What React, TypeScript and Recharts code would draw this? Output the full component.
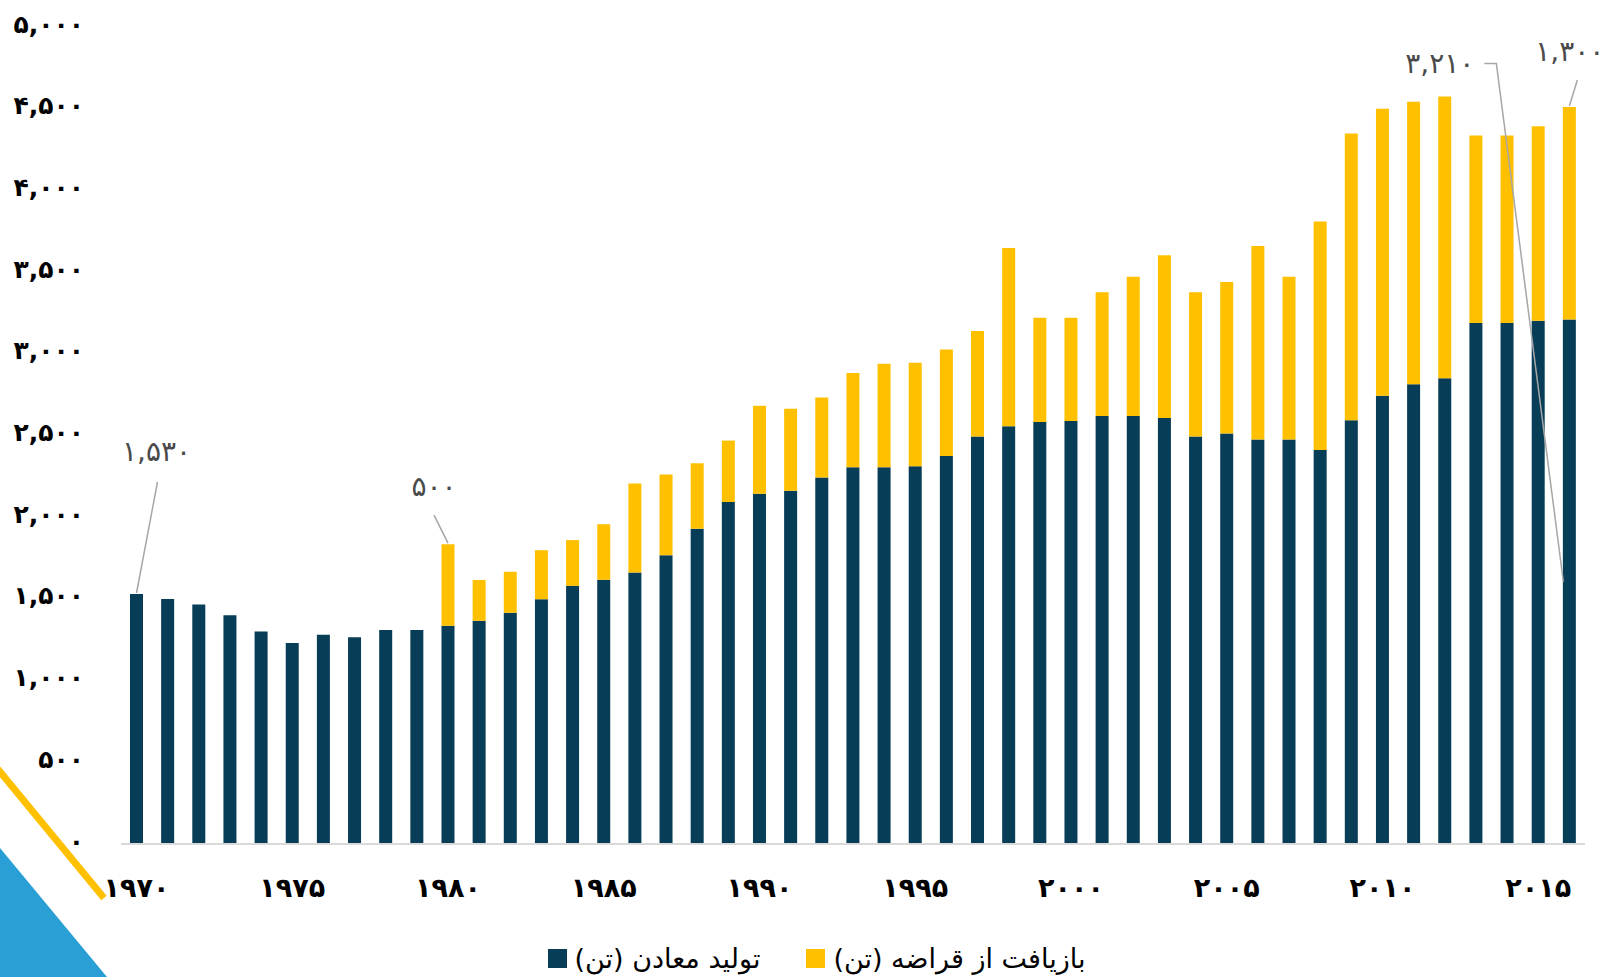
import { BarChart, Bar, XAxis, YAxis, LabelList } from 'recharts';

const YEARS = [
  1970, 1971, 1972, 1973, 1974, 1975, 1976, 1977, 1978, 1979,
  1980, 1981, 1982, 1983, 1984, 1985, 1986, 1987, 1988, 1989,
  1990, 1991, 1992, 1993, 1994, 1995, 1996, 1997, 1998, 1999,
  2000, 2001, 2002, 2003, 2004, 2005, 2006, 2007, 2008, 2009,
  2010, 2011, 2012, 2013, 2014, 2015, 2016,
];

// تولید معادن (تن)
const MINE = [
  1530, 1500, 1465, 1400, 1300, 1230, 1280, 1265, 1310, 1310,
  1335, 1366, 1416, 1498, 1580, 1617, 1661, 1767, 1930, 2093,
  2143, 2162, 2243, 2306, 2306, 2312, 2375, 2494, 2557, 2582,
  2588, 2619, 2619, 2607, 2494, 2513, 2475, 2475, 2412, 2594,
  2744, 2813, 2851, 3189, 3189, 3202, 3210,
];

// بازیافت از قراضه (تن)
const RECYCLED = [
  0, 0, 0, 0, 0, 0, 0, 0, 0, 0,
  500, 250, 250, 300, 280, 340, 545, 495, 400, 376,
  539, 501, 489, 576, 633, 633, 651, 645, 1090, 639,
  633, 758, 852, 996, 883, 927, 1184, 996, 1398, 1754,
  1755, 1730, 1723, 1147, 1147, 1190, 1300,
];

const Y_TICKS = [0, 500, 1000, 1500, 2000, 2500, 3000, 3500, 4000, 4500, 5000];

const SERIES_NAMES = ['تولید معادن (تن)', 'بازیافت از قراضه (تن)'];
const COLORS = ['#073D56', '#FFC000'];

const FONT = '"DejaVu Sans", "Noto Sans", sans-serif';

const FA_DIGITS = '۰۱۲۳۴۵۶۷۸۹';
const toFa = (n: number, sep = true) => {
  const s = sep ? n.toLocaleString('en-US') : String(n);
  return s.replace(/[0-9]/g, (d) => FA_DIGITS[Number(d)]);
};

const data = YEARS.map((year, i) => ({
  year,
  mine: MINE[i],
  recycled: RECYCLED[i],
}));

const LEADER = '#a6a6a6';
const NOTE = '#4a4a4a';
const NOTE_SIZE = 28;

// labels get the year (dataKey="year"), the value is looked up from the arrays
function MineNote(props: any) {
  const { x, y, width, height, value } = props;
  const i = YEARS.indexOf(value);
  const cx = x + width / 2;
  if (i === 0) {
    return (
      <g>
        <line x1={cx + 21} y1={y - 112} x2={cx} y2={y - 1} stroke={LEADER} strokeWidth={1.5} />
        <text x={cx + 20} y={y - 142} textAnchor="middle" dominantBaseline="central" fontSize={NOTE_SIZE} fill={NOTE} fontFamily={FONT}>
          {toFa(MINE[i])}
        </text>
      </g>
    );
  }
  if (i === YEARS.length - 1) {
    return (
      <g>
        <polyline
          points={`${cx - 85},${y - 256} ${cx - 73},${y - 256} ${cx - 6},${y + height / 2}`}
          fill="none"
          stroke={LEADER}
          strokeWidth={1.5}
        />
        <text x={cx - 95} y={y - 256} textAnchor="end" dominantBaseline="central" fontSize={NOTE_SIZE} fill={NOTE} fontFamily={FONT}>
          {toFa(MINE[i])}
        </text>
      </g>
    );
  }
  return null;
}

function RecycledNote(props: any) {
  const { x, y, width, value } = props;
  const i = YEARS.indexOf(value);
  const cx = x + width / 2;
  if (i === 10) {
    return (
      <g>
        <line x1={cx - 14} y1={y - 29} x2={cx} y2={y - 1} stroke={LEADER} strokeWidth={1.5} />
        <text x={cx - 14} y={y - 58} textAnchor="middle" dominantBaseline="central" fontSize={NOTE_SIZE} fill={NOTE} fontFamily={FONT}>
          {toFa(RECYCLED[i])}
        </text>
      </g>
    );
  }
  if (i === YEARS.length - 1) {
    return (
      <g>
        <line x1={cx + 8} y1={y - 27} x2={cx} y2={y - 1} stroke={LEADER} strokeWidth={1.5} />
        <text x={cx + 35} y={y - 56} textAnchor="end" dominantBaseline="central" fontSize={NOTE_SIZE} fill={NOTE} fontFamily={FONT}>
          {toFa(RECYCLED[i])}
        </text>
      </g>
    );
  }
  return null;
}

function XTick(props: any) {
  const { x, y, payload } = props;
  return (
    <text x={x} y={y} textAnchor="middle" dominantBaseline="central" fontSize={27} fontWeight="bold" fill="#000" fontFamily={FONT}>
      {toFa(payload.value, false)}
    </text>
  );
}

function YTick(props: any) {
  const { x, y, payload } = props;
  return (
    <text x={x} y={y - 3} textAnchor="end" dominantBaseline="central" fontSize={25} fontWeight="bold" fill="#000" fontFamily={FONT}>
      {toFa(payload.value)}
    </text>
  );
}

export default function App() {
  return (
    <div
      style={{
        position: 'absolute',
        left: 0,
        top: 0,
        width: 1609,
        height: 977,
        background: '#fff',
        overflow: 'hidden',
        fontFamily: FONT,
      }}
    >
      <svg width={1609} height={977} style={{ position: 'absolute', left: 0, top: 0 }}>
        <polygon points="0,848 107,977 0,977" fill="#2A9FD6" />
        <line x1={-3} y1={768} x2={104} y2={898} stroke="#FFC000" strokeWidth={7} />
      </svg>
      <div style={{ position: 'absolute', left: 0, top: 0 }}>
        <BarChart
          width={1609}
          height={977}
          data={data}
          margin={{ top: 27, right: 24, bottom: 83, left: 0 }}
          barSize={13}
        >
          <XAxis
            dataKey="year"
            interval={4}
            axisLine={{ stroke: '#d9d9d9', strokeWidth: 2 }}
            tickLine={false}
            tickMargin={37}
            height={50}
            tick={<XTick />}
          />
          <YAxis
            domain={[0, 5000]}
            ticks={Y_TICKS}
            width={121}
            axisLine={false}
            tickLine={false}
            tickMargin={31}
            tick={<YTick />}
          />
          <Bar dataKey="mine" stackId="a" fill={COLORS[0]} isAnimationActive={false}>
            <LabelList dataKey="year" content={<MineNote />} />
          </Bar>
          <Bar dataKey="recycled" stackId="a" fill={COLORS[1]} isAnimationActive={false}>
            <LabelList dataKey="year" content={<RecycledNote />} />
          </Bar>
        </BarChart>
      </div>
      <div
        style={{
          position: 'absolute',
          left: 12,
          top: 943,
          width: 1609,
          display: 'flex',
          justifyContent: 'center',
          gap: 46,
          fontSize: 27,
          color: '#000',
        }}
      >
        {SERIES_NAMES.map((name, i) => (
          <div key={name} style={{ display: 'flex', alignItems: 'center', gap: 8 }}>
            <span style={{ width: 19, height: 19, background: COLORS[i], display: 'inline-block' }} />
            <span dir="rtl">{name}</span>
          </div>
        ))}
      </div>
    </div>
  );
}
